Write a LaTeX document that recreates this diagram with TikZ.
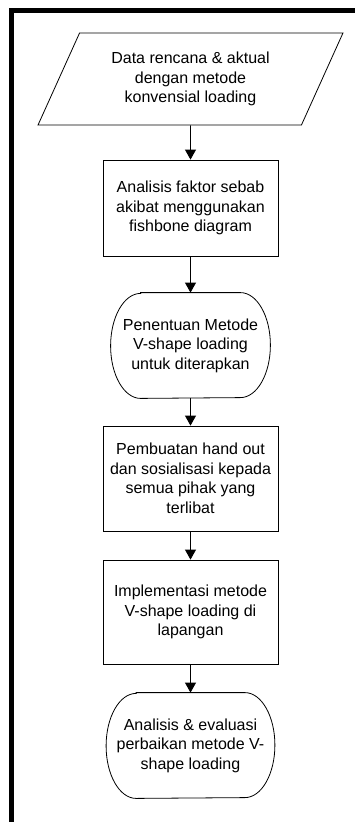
\documentclass[tikz,border=0pt]{standalone}
\usepackage{fontspec}
\setmainfont{Liberation Sans}
\usetikzlibrary{shapes.geometric,arrows.meta}

\begin{document}
\begin{tikzpicture}[x=1pt,y=-1pt,
        every node/.style={font=\fontsize{16}{19.5}\selectfont, align=center, line width=0.8pt},
        datain/.style={draw, trapezium, trapezium left angle=63, trapezium right angle=117,
            trapezium stretches=true, minimum width=305pt, minimum height=92pt},
        proses/.style={draw, rectangle, minimum width=175pt},
        terminal/.style={rectangle, minimum height=105pt},
        panah/.style={-{Triangle[width=11pt,length=10pt]}, line width=0.8pt}]
        \useasboundingbox (0,0) rectangle (355,822);

        % Frame
        \draw[line width=5pt] (11.5,822) -- (11.5,10.5) -- (355,10.5);

        % Steps
        \node[datain] (data) at (190.5,79) {Data rencana \& aktual\\dengan metode\\konvensial loading};
        \node[proses, minimum height=96pt] (faktor) at (190.5,208) {Analisis faktor sebab\\akibat menggunakan\\fishbone diagram};
        \node[terminal, minimum width=159pt] (metode) at (190.5,345.5) {Penentuan Metode\\V-shape loading\\untuk diterapkan};
        \node[proses, minimum height=105pt] (handout) at (190.5,478.5) {Pembuatan hand out\\dan sosialisasi kepada\\semua pihak yang\\terlibat};
        \node[proses, minimum height=104pt] (implementasi) at (190.5,612) {Implementasi metode\\V-shape loading di\\lapangan};
        \node[terminal, minimum width=168pt] (evaluasi) at (190.5,745.5) {Analisis \& evaluasi\\perbaikan metode V-\\shape loading};

        % Terminal outlines
        \foreach \n in {metode,evaluasi}
            \draw[line width=0.8pt] ([xshift=30pt]\n.north west) -- ([xshift=-30pt]\n.north east)
                arc[start angle=90, end angle=-90, x radius=30pt, y radius=52.5pt]
                -- ([xshift=30pt]\n.south west)
                arc[start angle=270, end angle=90, x radius=30pt, y radius=52.5pt] -- cycle;

        % Arrows
        \draw[panah] (data) -- (faktor);
        \draw[panah] (faktor) -- (metode);
        \draw[panah] (metode) -- (handout);
        \draw[panah] (handout) -- (implementasi);
        \draw[panah] (implementasi) -- (evaluasi);
    \end{tikzpicture}
\end{document}
